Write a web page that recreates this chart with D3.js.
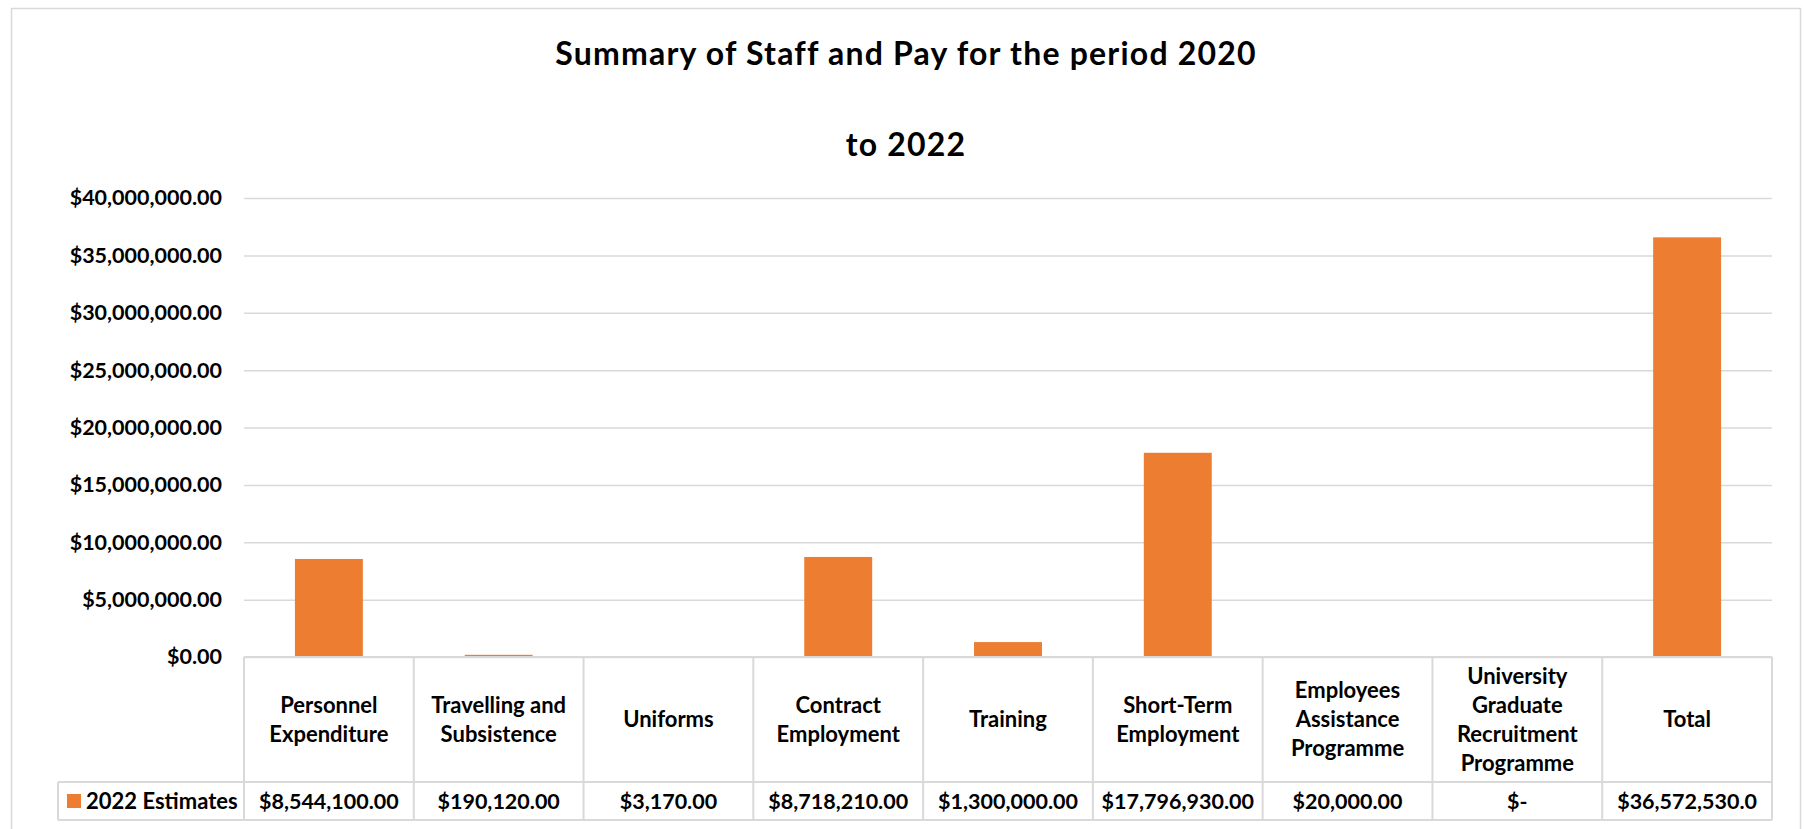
<!DOCTYPE html>
<html>
<head>
<meta charset="utf-8">
<script src="https://cdn.jsdelivr.net/npm/d3@7"></script>
<style>
  body { margin: 0; background: #fff; }
  text { font-family: Lato, "Open Sans", sans-serif; font-weight: bold; fill: #000; }
</style>
</head>
<body>
<div id="chart"></div>
<script>
// Chart data
var categories = [
  ["Personnel", "Expenditure"],
  ["Travelling and", "Subsistence"],
  ["Uniforms"],
  ["Contract", "Employment"],
  ["Training"],
  ["Short-Term", "Employment"],
  ["Employees", "Assistance", "Programme"],
  ["University", "Graduate", "Recruitment", "Programme"],
  ["Total"]
];
var estimates = [8544100, 190120, 3170, 8718210, 1300000, 17796930, 20000, 0, 36572530];
// cell texts as printed in the data table (last one is clipped in the original)
var valueLabels = ["$8,544,100.00", "$190,120.00", "$3,170.00", "$8,718,210.00", "$1,300,000.00",
  "$17,796,930.00", "$20,000.00", "$-", "$36,572,530.0"];
var yTicks = [0, 5000000, 10000000, 15000000, 20000000, 25000000, 30000000, 35000000, 40000000];
var seriesName = "2022 Estimates";
var titleLines = ["Summary of Staff and Pay for the period 2020", "to 2022"];

var width = 1804, height = 829;
var plot = { left: 244, right: 1772, top: 198, bottom: 657 };
var headerBottom = 782, rowBottom = 820, legendLeft = 58;
var barColor = "#ED7D31", lineColor = "#d9d9d9";

var svg = d3.select("#chart")
  .append("svg")
  .attr("width", width)
  .attr("height", height);

// outer frame
svg.append("rect")
  .attr("x", 11.5).attr("y", 8.5)
  .attr("width", 1789).attr("height", 840)
  .attr("fill", "none")
  .attr("stroke", lineColor)
  .attr("stroke-width", 1.5);

// title
svg.append("g").selectAll("text")
  .data(titleLines)
  .enter()
  .append("text")
  .attr("x", 906)
  .attr("y", (d, i) => 54 + i * 91)
  .attr("dy", "0.35em")
  .attr("text-anchor", "middle")
  .style("font-size", "32px")
  .style("letter-spacing", "1.2px")
  .text(d => d);

// scales
var xScale = d3.scaleBand()
  .domain(d3.range(categories.length))
  .range([plot.left, plot.right])
  .paddingInner(0.6)
  .paddingOuter(0.3);

var colScale = d3.scaleBand()
  .domain(d3.range(categories.length))
  .range([plot.left, plot.right]);

var yScale = d3.scaleLinear()
  .domain([0, 40000000])
  .range([plot.bottom, plot.top]);

// y axis with gridlines
var leftAxis = d3.axisLeft(yScale)
  .tickValues(yTicks)
  .tickFormat(d3.format("$,.2f"))
  .tickSize(-(plot.right - plot.left))
  .tickPadding(22);

var yAxis = svg.append("g")
  .attr("transform", `translate(${plot.left},0)`)
  .call(leftAxis);
yAxis.select(".domain").remove();
yAxis.selectAll(".tick line")
  .attr("stroke", lineColor)
  .attr("stroke-width", 1.5);
yAxis.selectAll(".tick text")
  .style("font-size", "21.5px")
  .style("font-family", "Lato, 'Open Sans', sans-serif")
  .style("font-weight", "bold")
  .attr("fill", "#000");

// bars
svg.append("g").selectAll("rect")
  .data(estimates)
  .enter()
  .append("rect")
  .attr("x", (d, i) => xScale(i))
  .attr("y", d => yScale(d))
  .attr("width", xScale.bandwidth())
  .attr("height", d => yScale(0) - yScale(d))
  .attr("fill", barColor);

// data table grid
var table = svg.append("g")
  .attr("stroke", lineColor)
  .attr("stroke-width", 2)
  .attr("fill", "none");

table.append("line")
  .attr("x1", plot.left).attr("x2", plot.right)
  .attr("y1", plot.bottom).attr("y2", plot.bottom);
table.append("line")
  .attr("x1", legendLeft).attr("x2", plot.right)
  .attr("y1", headerBottom).attr("y2", headerBottom);
table.append("line")
  .attr("x1", legendLeft).attr("x2", plot.right)
  .attr("y1", rowBottom).attr("y2", rowBottom);
table.append("line")
  .attr("x1", legendLeft).attr("x2", legendLeft)
  .attr("y1", headerBottom).attr("y2", rowBottom);
table.selectAll(".col")
  .data(d3.range(categories.length + 1))
  .enter()
  .append("line")
  .attr("x1", i => plot.left + i * colScale.step())
  .attr("x2", i => plot.left + i * colScale.step())
  .attr("y1", plot.bottom)
  .attr("y2", rowBottom);

// header labels
var headerMid = (plot.bottom + headerBottom) / 2;
var lineGap = 29;
svg.append("g").selectAll("text")
  .data(categories)
  .enter()
  .append("text")
  .attr("text-anchor", "middle")
  .style("font-size", "22px")
  .each(function(lines, i) {
    var cx = colScale(i) + colScale.bandwidth() / 2;
    d3.select(this).selectAll("tspan")
      .data(lines)
      .enter()
      .append("tspan")
      .attr("x", cx)
      .attr("y", (t, j) => headerMid + (j - (lines.length - 1) / 2) * lineGap)
      .attr("dy", "0.35em")
      .text(t => t);
  });

// value row
var rowMid = (headerBottom + rowBottom) / 2;
svg.append("g").selectAll("text")
  .data(valueLabels)
  .enter()
  .append("text")
  .attr("x", (d, i) => colScale(i) + colScale.bandwidth() / 2)
  .attr("y", rowMid)
  .attr("dy", "0.35em")
  .attr("text-anchor", "middle")
  .style("font-size", "21.5px")
  .text(d => d);

// legend cell
svg.append("rect")
  .attr("x", 67).attr("y", 794)
  .attr("width", 14).attr("height", 14)
  .attr("fill", barColor);
svg.append("text")
  .attr("x", 86)
  .attr("y", rowMid)
  .attr("dy", "0.35em")
  .style("font-size", "22px")
  .text(seriesName);
</script>
</body>
</html>
